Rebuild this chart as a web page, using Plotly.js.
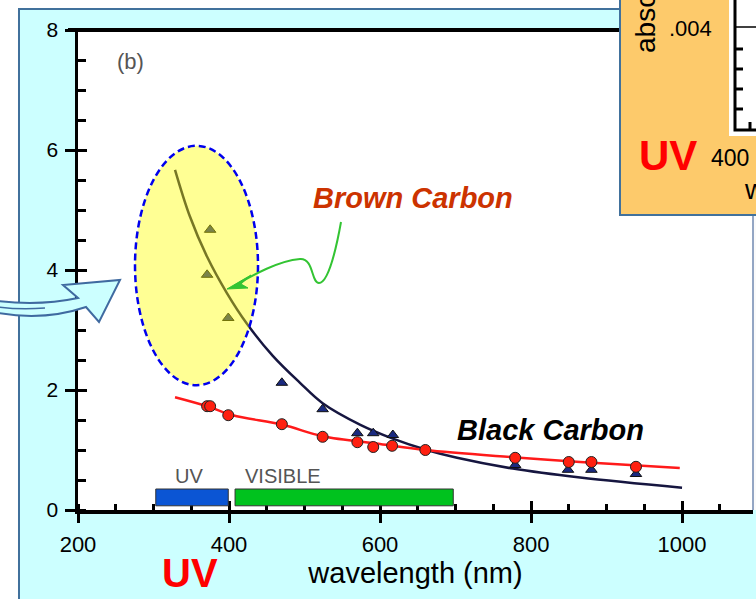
<!DOCTYPE html>
<html>
<head>
<meta charset="utf-8">
<script src="https://cdn.plot.ly/plotly-3.0.1.min.js"></script>
<style>html,body{margin:0;padding:0;background:#fff;}#chart{width:756px;height:599px;}</style>
</head>
<body>
<div id="chart"></div>
<script>
// ---- data ----
const xTickVals = [200, 400, 600, 800, 1000];
const yTickVals = [0, 2, 4, 6, 8];

// brown-carbon (triangle) fit curve
const bcFitX = [328.5, 348, 371, 397, 424, 458, 494, 524, 574, 617, 662, 702, 776, 865, 1000];
const bcFitY = [5.67, 4.90, 4.22, 3.62, 3.10, 2.57, 2.12, 1.78, 1.42, 1.19, 1.00, 0.87, 0.69, 0.54, 0.37];
// brown-carbon triangles
const triX = [375, 371, 399, 470, 524, 570, 591, 617, 779, 849, 880, 939];
const triY = [4.67, 3.92, 3.20, 2.12, 1.68, 1.28, 1.28, 1.25, 0.75, 0.67, 0.67, 0.60];
// black-carbon (circle) fit curve
const bkFitX = [328.5, 371, 405, 471, 524, 600, 660, 776, 865, 997];
const bkFitY = [1.88, 1.73, 1.58, 1.42, 1.23, 1.10, 1.00, 0.88, 0.80, 0.70];
// black-carbon circles
const circX = [371, 375, 399, 470, 524, 570, 591, 616, 660, 779, 850, 880, 939];
const circY = [1.73, 1.73, 1.58, 1.43, 1.22, 1.13, 1.05, 1.07, 1.00, 0.87, 0.80, 0.80, 0.72];

// spectral bands
const bandNames = ['UV', 'VISIBLE'];
const bandStart = [303, 408];
const bandEnd = [399, 697];

// ---- helpers for decorations placed in pixel terms ----
const L = 78, R = 753, T = 30, B = 510;
const fx = px => (px - L) / (R - L);
const fy = py => (B - py) / (B - T);
const toPaper = d => d.replace(/(-?[\d.]+),(-?[\d.]+)/g, (m, a, b) => fx(+a).toFixed(5) + ',' + fy(+b).toFixed(5));
const FONT = 'Arial, "Liberation Sans", sans-serif';

const traces = [
  {x: bcFitX, y: bcFitY, mode: 'lines', line: {color: '#161640', width: 2.5, shape: 'spline'}, hoverinfo: 'skip'},
  {x: bkFitX, y: bkFitY, mode: 'lines', line: {color: '#ff1a1a', width: 2.5, shape: 'spline'}, hoverinfo: 'skip'},
  {x: triX, y: triY, mode: 'markers', marker: {symbol: 'triangle-up', size: 10, color: '#1a2a80', line: {color: '#111', width: 1}}},
  {x: circX, y: circY, mode: 'markers', marker: {symbol: 'circle', size: 11, color: '#ff2010', line: {color: '#222', width: 1}}},
  {x: [null], y: [null], xaxis: 'x2', yaxis: 'y2', mode: 'markers', hoverinfo: 'skip'}
];

const shapes = [];
// left / top white margins of slide + panel border
shapes.push({type: 'rect', xref: 'paper', yref: 'paper', x0: fx(-10), x1: fx(18), y0: fy(-10), y1: fy(620), fillcolor: 'white', line: {width: 0}, layer: 'below'});
shapes.push({type: 'rect', xref: 'paper', yref: 'paper', x0: fx(18), x1: fx(770), y0: fy(-10), y1: fy(8), fillcolor: 'white', line: {width: 0}, layer: 'below'});
shapes.push({type: 'rect', xref: 'paper', yref: 'paper', x0: fx(753), x1: fx(770), y0: fy(510), y1: fy(200), fillcolor: '#fafafa', line: {width: 0}, layer: 'below'});
shapes.push({type: 'path', xref: 'paper', yref: 'paper', path: toPaper('M 19,620 L 19,9 L 770,9'), line: {color: '#41719c', width: 2}, layer: 'below'});
// image border on right
shapes.push({type: 'line', xref: 'paper', yref: 'paper', x0: fx(753), x1: fx(753), y0: fy(215), y1: fy(510), line: {color: '#7088b0', width: 1.5}, layer: 'above'});
// top frame line
shapes.push({type: 'line', xref: 'paper', yref: 'paper', x0: fx(68), x1: 1, y0: 1, y1: 1, line: {color: 'black', width: 4}, layer: 'above'});
// bands
const bandColors = ['#0b55d4', '#00c21e'];
for (let i = 0; i < bandNames.length; i++) {
  shapes.push({type: 'rect', xref: 'x', yref: 'y', x0: bandStart[i], x1: bandEnd[i], y0: 0.07, y1: 0.35, fillcolor: bandColors[i], line: {color: '#333', width: 1}, layer: 'above'});
}
// highlight ellipse
shapes.push({type: 'circle', xref: 'x', yref: 'y', x0: 275.5, x1: 438.4, y0: 2.08, y1: 6.07, fillcolor: 'rgba(255,255,0,0.42)', line: {color: '#0000ee', width: 2.5, dash: '7px,4px'}, layer: 'above'});
// green curved arrow
shapes.push({type: 'path', xref: 'paper', yref: 'paper', path: toPaper('M 341,222 C 336,250 328,283 319,283 C 311,283 314,258 300,259 C 278,261 255,274 234,286'), line: {color: '#33c433', width: 2}, layer: 'above'});
shapes.push({type: 'path', xref: 'paper', yref: 'paper', path: toPaper('M 227,289 L 251,275 L 241,284 L 248,288 Z'), fillcolor: '#33c433', line: {color: '#33c433', width: 1}, layer: 'above'});
// blue block arrow at left
shapes.push({type: 'path', xref: 'paper', yref: 'paper', path: toPaper('M -2,301 Q 40,306 78,298 L 63,285 L 120,280 L 99,322 L 86,307 Q 45,321 -2,313 Z'), fillcolor: '#ccffff', line: {color: '#3f6aa0', width: 2}, layer: 'above'});
shapes.push({type: 'path', xref: 'paper', yref: 'paper', path: toPaper('M -2,307 Q 20,310 45,308'), line: {color: '#3f6aa0', width: 1.5}, layer: 'above'});
// inset (orange box)
shapes.push({type: 'rect', xref: 'paper', yref: 'paper', x0: fx(620), x1: fx(775), y0: fy(215), y1: fy(-10), fillcolor: '#fdca6b', line: {color: '#41719c', width: 2}, layer: 'above'});
shapes.push({type: 'rect', xref: 'paper', yref: 'paper', x0: fx(729), x1: fx(775), y0: fy(136), y1: fy(-10), fillcolor: 'white', line: {width: 0}, layer: 'above'});
shapes.push({type: 'path', xref: 'paper', yref: 'paper', path: toPaper('M 735,-5 L 735,130 L 770,130'), line: {color: 'black', width: 3}, layer: 'above'});
shapes.push({type: 'line', xref: 'paper', yref: 'paper', x0: fx(735), x1: fx(770), y0: fy(27), y1: fy(27), line: {color: 'black', width: 1.5}, layer: 'above'});
[49, 69, 89, 109].forEach(py => shapes.push({type: 'line', xref: 'paper', yref: 'paper', x0: fx(735), x1: fx(743), y0: fy(py), y1: fy(py), line: {color: 'black', width: 3}, layer: 'above'}));
shapes.push({type: 'line', xref: 'paper', yref: 'paper', x0: fx(750), x1: fx(750), y0: fy(130), y1: fy(122), line: {color: 'black', width: 3}, layer: 'above'});

const ann = (px, py, text, size, color, extra) => Object.assign({xref: 'paper', yref: 'paper', x: fx(px), y: fy(py), text: text, showarrow: false, xanchor: 'center', yanchor: 'middle', font: {family: FONT, size: size, color: color}}, extra || {});
const annotations = [
  ann(130, 61, '(b)', 22, '#555'),
  ann(189, 476, bandNames[0], 20, '#555'),
  ann(283, 476, bandNames[1], 20, '#555'),
  ann(413, 198, '<b><i>Brown Carbon</i></b>', 29, '#cc3300'),
  ann(550, 430, '<b><i>Black Carbon</i></b>', 29, '#000'),
  ann(190, 573, '<b>UV</b>', 40, '#ff0000'),
  // inset texts
  ann(645, 24, 'absc', 28, '#000', {textangle: -90}),
  ann(690, 28, '.004', 22, '#000'),
  ann(668, 155, '<b>UV</b>', 42, '#ff0000'),
  ann(730, 158, '400', 23, '#000'),
  ann(742, 189, 'w', 28, '#000', {xanchor: 'left'})
];

const layout = {
  width: 756, height: 599,
  margin: {l: L, r: 756 - R, t: T, b: 599 - B, pad: 0},
  paper_bgcolor: '#ccffff', plot_bgcolor: 'white',
  showlegend: false,
  font: {family: FONT, color: '#000'},
  xaxis: {
    range: [200, 1094], tickvals: xTickVals, ticks: 'outside', ticklen: 9, tickwidth: 3, tickcolor: 'black',
    showline: true, linewidth: 4, linecolor: 'black', showgrid: false, zeroline: false,
    minor: {dtick: 50, tick0: 200, ticks: 'inside', ticklen: 6, tickwidth: 3, tickcolor: 'black', showgrid: false},
    tickfont: {size: 22, family: FONT, color: '#000'}, ticklabelstandoff: 3,
    title: {text: 'wavelength (nm)', font: {size: 29, family: FONT, color: '#000'}, standoff: 6}
  },
  yaxis: {
    range: [0, 8], tickvals: yTickVals, ticks: 'outside', ticklen: 10, tickwidth: 3, tickcolor: 'black',
    showline: true, linewidth: 3.5, linecolor: 'black', showgrid: false, zeroline: false,
    minor: {dtick: 0.5, tick0: 0, ticks: 'inside', ticklen: 8, tickwidth: 3, tickcolor: 'black', showgrid: false},
    tickfont: {size: 21, family: FONT, color: '#000'}, ticklabelstandoff: 2
  },
  xaxis2: {overlaying: 'x', anchor: 'y2', side: 'bottom', range: [200, 1094], tickvals: xTickVals, ticks: 'inside', ticklen: 9, tickwidth: 3, tickcolor: 'black', showticklabels: false, showline: false, showgrid: false, zeroline: false},
  yaxis2: {overlaying: 'y', anchor: 'x2', side: 'left', range: [0, 8], tickvals: yTickVals, ticks: 'inside', ticklen: 9, tickwidth: 3, tickcolor: 'black', showticklabels: false, showline: false, showgrid: false, zeroline: false},
  shapes: shapes,
  annotations: annotations
};

Plotly.newPlot('chart', traces, layout, {staticPlot: true, displayModeBar: false});
</script>
</body>
</html>
